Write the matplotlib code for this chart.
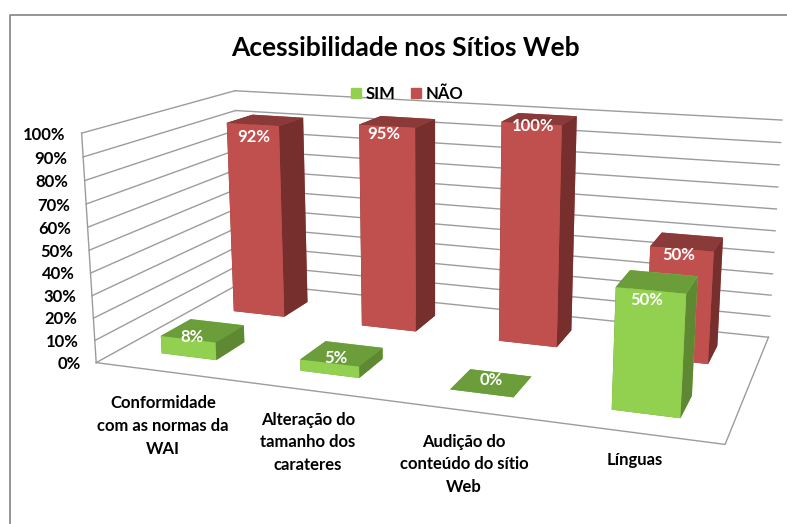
import numpy as np
import matplotlib
matplotlib.use("Agg")
import matplotlib.pyplot as plt
from matplotlib.lines import Line2D
from matplotlib.patches import Patch
from mpl_toolkits.mplot3d import proj3d

WIDTH = 787
HEIGHT = 524

categories = ["Conformidade\ncom as normas da\nWAI", "Alteração do\ntamanho dos\ncarateres",
              "Audição do\nconteúdo do sítio\nWeb", "Línguas"]
sim_values = [8, 5, 0, 50]
nao_values = [92, 95, 100, 50]
y_ticks = [0, 10, 20, 30, 40, 50, 60, 70, 80, 90, 100]

# camera and box fitted against the corners of the original chart
ELEV, AZIM, ROLL, FOCAL = 14.148, -70.418, -0.071, 0.361
BOX_ASPECT = (2.686, 1.339, 1)
VIEW_CX, VIEW_CY, VIEW_SCALE = 442.10, 240.26, 3818.79
BAR_W = 0.402
BAR_D = 0.39

GRID = '#9c9c9c'
RED = ['#8a3a38', '#8a3a38', '#c0504d', '#c0504d', '#772f2d', '#772f2d']
GREEN = ['#6b9e3b', '#6b9e3b', '#92d050', '#92d050', '#5e8832', '#5e8832']

plt.rcParams['font.family'] = ['Lato', 'DejaVu Sans']
plt.rcParams['font.weight'] = 'bold'


def fx(px):
    return px / WIDTH


def fy(py):
    return 1 - py / HEIGHT


def place_axes(ax):
    # square axes whose view limits put the box where the original has it
    view = ax.viewLim
    left = VIEW_CX + view.x0 * VIEW_SCALE
    bottom = (HEIGHT - VIEW_CY) + view.y0 * VIEW_SCALE
    side_w = (view.x1 - view.x0) * VIEW_SCALE
    side_h = (view.y1 - view.y0) * VIEW_SCALE
    ax.set_position([left / WIDTH, bottom / HEIGHT, side_w / WIDTH, side_h / HEIGHT])


def draw_walls(ax):
    style = dict(color=GRID, lw=1.0, zorder=1)
    for tick in y_ticks:
        z = tick / 100
        ax.plot([0, 0], [0, 2], [z, z], **style)
        ax.plot([0, 4], [2, 2], [z, z], **style)
    ax.plot([0, 0], [0, 0], [0, 1], **style)
    ax.plot([0, 4, 4], [0, 0, 2], [0, 0, 0], **style)


def draw_bars(ax, values, row, colors):
    for i in reversed(range(len(values))):
        ax.bar3d(i + (1 - BAR_W) / 2, row + (1 - BAR_D) / 2, 0, BAR_W, BAR_D, values[i] / 100,
                 color=colors, shade=False, edgecolor='none', zorder=3 + (1 - row))


def main():
    fig = plt.figure(figsize=(WIDTH / 100, HEIGHT / 100), dpi=100)
    ax = fig.add_axes([0, 0, 1, 1], projection='3d', computed_zorder=False)
    ax.set_xlim(0, 4)
    ax.set_ylim(0, 2)
    ax.set_zlim(0, 1)
    ax.set_box_aspect(BOX_ASPECT)
    ax.view_init(ELEV, AZIM, ROLL)
    ax.set_proj_type('persp', focal_length=FOCAL)
    ax.set_axis_off()
    place_axes(ax)

    draw_walls(ax)
    draw_bars(ax, nao_values, 1, RED)
    draw_bars(ax, sim_values, 0, GREEN)

    # tick labels sit just left of the front edge of the left wall
    proj = ax.get_proj()
    for tick in y_ticks:
        u, v, _ = proj3d.proj_transform(-0.118, 0, tick / 100, proj)
        ax.text2D(u, v - 3.0 / VIEW_SCALE, f"{tick}%", transform=ax.transData, ha='right', va='center',
                  fontsize=12, color='black')

    fig.text(fx(405), fy(48), "Acessibilidade nos Sítios Web", ha='center', va='center',
             fontsize=19, color='black')

    fig.legend(handles=[Patch(color=GREEN[2], label='SIM'), Patch(color=RED[2], label='NÃO')],
               loc='center', bbox_to_anchor=(fx(407), fy(94)), ncol=2, frameon=False, fontsize=12,
               handlelength=0.6, handleheight=0.6, handletextpad=0.25, columnspacing=0.95,
               borderpad=0, borderaxespad=0)

    label_x = [163, 308, 464, 635]
    label_y = [426, 442, 464, 460]
    for text, x, y in zip(categories, label_x, label_y):
        fig.text(fx(x), fy(y), text, ha='center', va='center', fontsize=12, color='black', linespacing=1.5)

    sim_pos = [(192, 337), (336, 358), (491, 380), (647, 300)]
    nao_pos = [(254, 137), (384, 134), (533, 126), (679, 255)]
    for vals, pos in ((sim_values, sim_pos), (nao_values, nao_pos)):
        for v, (x, y) in zip(vals, pos):
            fig.text(fx(x), fy(y), f"{v}%", ha='center', va='center', fontsize=12, color='white', zorder=10)

    fig.add_artist(Line2D([fx(9.5), fx(9.5), fx(787)], [fy(524), fy(15), fy(15)], color='#8c8c8c', lw=1.3))

    fig.savefig("out.png", dpi=100)


if __name__ == "__main__":
    main()
